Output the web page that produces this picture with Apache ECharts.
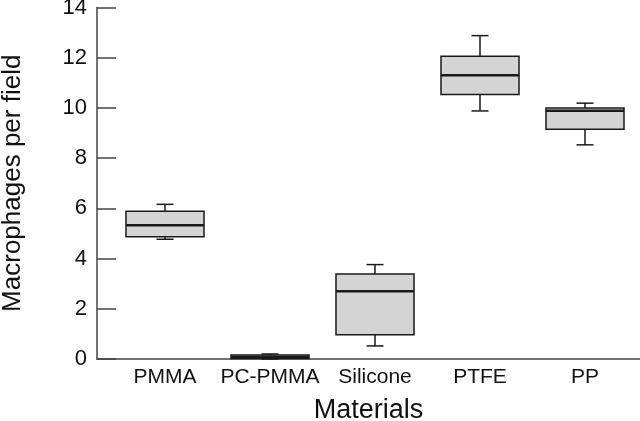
<!DOCTYPE html>
<html>
<head>
<meta charset="utf-8">
<script src="https://cdn.jsdelivr.net/npm/echarts@6/dist/echarts.min.js"></script>
<style>
html,body{margin:0;padding:0;background:#fff;}
#chart{width:640px;height:421px;}
</style>
</head>
<body>
<div id="chart"></div>
<script>
const categories = ['PMMA', 'PC-PMMA', 'Silicone', 'PTFE', 'PP'];
const whiskerLow = [4.77, 0.00, 0.52, 9.88, 8.53];
const quartile1 = [4.87, 0.02, 0.97, 10.53, 9.15];
const medians = [5.33, 0.08, 2.70, 11.30, 9.89];
const quartile3 = [5.88, 0.16, 3.39, 12.06, 10.00];
const whiskerHigh = [6.16, 0.20, 3.76, 12.88, 10.19];
const yTicks = [0, 2, 4, 6, 8, 10, 12, 14];

const boxData = categories.map((c, i) => [i + 1, whiskerLow[i], quartile1[i], medians[i], quartile3[i], whiskerHigh[i]]);

const chart = echarts.init(document.getElementById('chart'));
const font = '"Liberation Sans", Arial, Helvetica, sans-serif';
const ink = '#1a1a1a';

chart.setOption({
  animation: false,
  backgroundColor: '#fff',
  grid: { left: 97, right: 0, top: 7.5, bottom: 62, containLabel: false, outerBoundsMode: 'none' },
  xAxis: {
    type: 'value',
    min: 0.3524,
    max: 5.5238,
    name: 'Materials',
    nameLocation: 'middle',
    nameGap: 38,
    nameTextStyle: { fontFamily: font, fontSize: 27, color: '#111' },
    axisLine: { show: true, onZero: false, lineStyle: { color: '#444', width: 1.5 } },
    axisTick: { show: false },
    splitLine: { show: false },
    axisLabel: {
      customValues: [1, 2, 3, 4, 5],
      formatter: v => categories[Math.round(v) - 1] || '',
      fontFamily: font, fontSize: 21, color: '#111', margin: 8
    }
  },
  yAxis: {
    type: 'value',
    min: 0, max: 14, interval: 2,
    name: 'Macrophages per field',
    nameLocation: 'middle',
    nameGap: 71,
    nameRotate: 90,
    nameTextStyle: { fontFamily: font, fontSize: 26, color: '#111' },
    axisLine: { show: true, lineStyle: { color: '#444', width: 1.5 } },
    axisTick: { show: true, inside: true, length: 19, lineStyle: { color: '#444', width: 1.5 } },
    splitLine: { show: false },
    axisLabel: {
      customValues: yTicks,
      fontFamily: font, fontSize: 22, color: '#111', margin: 10
    }
  },
  series: [{
    type: 'custom',
    data: boxData,
    encode: { x: 0, y: [1, 2, 3, 4, 5] },
    renderItem: function (params, api) {
      const x = api.value(0);
      const lo = api.coord([x, api.value(1)]);
      const q1 = api.coord([x, api.value(2)]);
      const md = api.coord([x, api.value(3)]);
      const q3 = api.coord([x, api.value(4)]);
      const hi = api.coord([x, api.value(5)]);
      const bw = api.size([0.743, 0])[0];
      const cw = api.size([0.162, 0])[0];
      const cx = lo[0];
      const ls = { stroke: ink, lineWidth: 1.5 };
      return {
        type: 'group',
        children: [
          { type: 'line', shape: { x1: cx, y1: hi[1], x2: cx, y2: q3[1] }, style: ls },
          { type: 'line', shape: { x1: cx - cw / 2, y1: hi[1], x2: cx + cw / 2, y2: hi[1] }, style: ls },
          { type: 'line', shape: { x1: cx, y1: q1[1], x2: cx, y2: lo[1] }, style: ls },
          { type: 'line', shape: { x1: cx - cw / 2, y1: lo[1], x2: cx + cw / 2, y2: lo[1] }, style: ls },
          { type: 'rect', shape: { x: cx - bw / 2, y: q3[1], width: bw, height: q1[1] - q3[1] }, style: { fill: '#d4d4d4', stroke: ink, lineWidth: 1.5 } },
          { type: 'line', shape: { x1: cx - bw / 2, y1: md[1], x2: cx + bw / 2, y2: md[1] }, style: { stroke: ink, lineWidth: 2.5 } }
        ]
      };
    }
  }]
});
</script>
</body>
</html>
